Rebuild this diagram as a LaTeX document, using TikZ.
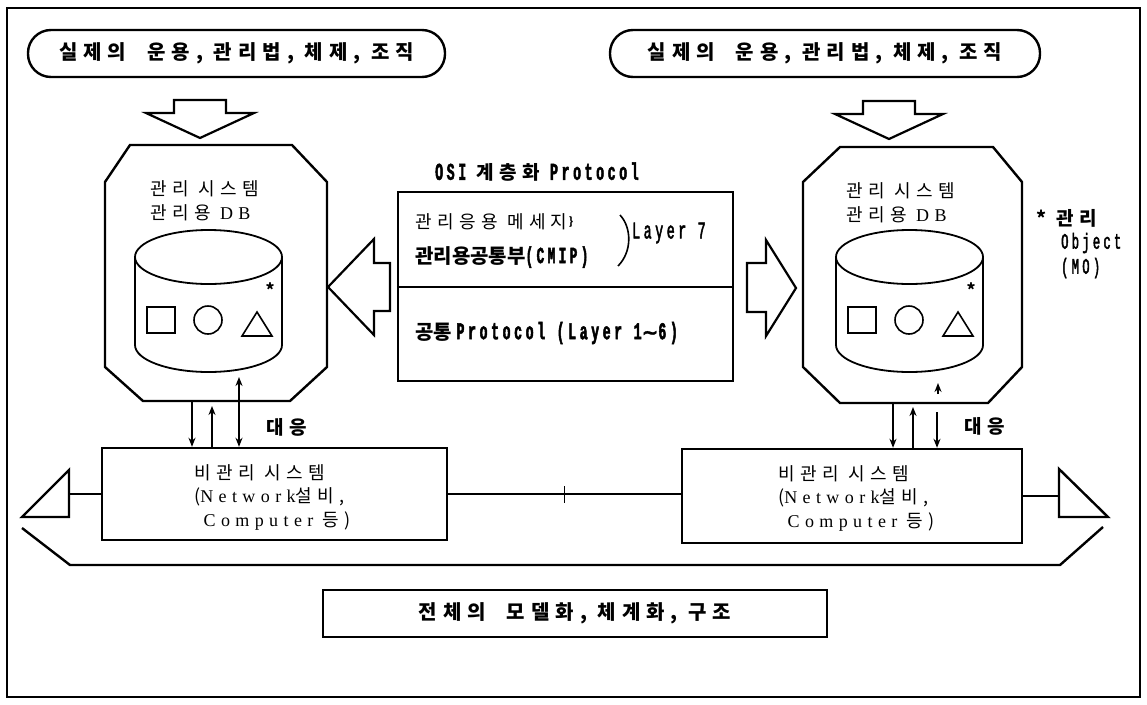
\documentclass[tikz,border=0pt]{standalone}
\usepackage{fontspec}
\setmainfont{Noto Sans CJK KR}
\newfontfamily\krsp{Noto Sans CJK KR}[LetterSpace=30]
\newfontfamily\lat{Liberation Serif}[LetterSpace=30]
\newfontfamily\mono{Liberation Mono}[FakeStretch=0.55, LetterSpace=15, FakeBold=2]
\newfontfamily\sym{DejaVu Sans}[FakeBold=1.5]
\usetikzlibrary{arrows.meta, positioning}

\begin{document}
\begin{tikzpicture}[
  x=1pt, y=-1pt,
  ln/.style={line width=2.4pt, line join=miter},
  pill/.style={draw, line width=2.4pt, rounded corners=23pt, minimum height=47pt,
               inner sep=0pt, font=\krsp\bfseries\fontsize{20}{22}\selectfont},
  box/.style={draw, line width=2.4pt, inner sep=0pt},
  blk/.style={draw, line width=2.2pt, line join=miter},
  cyl/.style={line width=1.8pt},
  shp/.style={line width=1.6pt},
  arr/.style={line width=1.7pt, -{Stealth[length=9pt, width=7pt]}},
  darr/.style={line width=1.7pt, {Stealth[length=9pt, width=7pt]}-{Stealth[length=9pt, width=7pt]}},
  txt/.style={font=\krsp\fontsize{18}{23.5}\selectfont, inner sep=0pt},
  btxt/.style={font=\krsp\bfseries\fontsize{19}{22}\selectfont, inner sep=0pt},
  mtxt/.style={font=\mono\fontsize{24}{24}\selectfont, inner sep=0pt}
]
  \useasboundingbox (0,0) rectangle (1147,704);
  \draw[ln] (7,8) rectangle (1140,697);

  % top: real operation
  \node[pill, minimum width=417pt] (pillL) at (236.5,53.5) {실제의\ \ 운용, 관리법, 체제, 조직};
  \node[pill, minimum width=430pt] (pillR) at (825,53.5) {실제의\ \ 운용, 관리법, 체제, 조직};

  % block arrows down
  \draw[blk] (174,100) -- (226,100) -- (226,113) -- (254,113) -- (200,138)
    -- (146,113) -- (174,113) -- cycle;
  \draw[blk] (863,101) -- (915,101) -- (915,114) -- (943,114) -- (889,139)
    -- (835,114) -- (863,114) -- cycle;

  % management systems
  \draw[ln] (130,145) -- (292,145) -- (327,182) -- (327,367) -- (290,401)
    -- (143,401) -- (105,367) -- (105,182) -- cycle;
  \draw[ln] (840,147) -- (993,147) -- (1022,182) -- (1022,367) -- (988,403)
    -- (840,403) -- (803,367) -- (803,182) -- cycle;
  \coordinate (octLs) at (216,401);
  \coordinate (octRs) at (912,403);

  \node[txt, anchor=west, align=left] (titL) at (150,201) {관리 시스템\\관리용 {\lat DB}};
  \node[txt, anchor=west, align=left] (titR) at (846,203) {관리 시스템\\관리용 {\lat DB}};

  % databases with objects
  \foreach \dx in {0,701} {
    \draw[cyl] (208.5+\dx,257) ellipse [x radius=73.5, y radius=27];
    \draw[cyl] (135+\dx,257) -- (135+\dx,345)
      arc[start angle=180, end angle=0, x radius=73.5, y radius=27] -- (282+\dx,257);
    \draw[shp] (147+\dx,307) rectangle (175+\dx,333);
    \draw[shp] (208+\dx,320) circle [radius=14];
    \draw[shp] (242+\dx,336) -- (272+\dx,336) -- (257+\dx,312) -- cycle;
    \node[font=\bfseries\fontsize{17}{17}\selectfont, inner sep=0pt] (ast\dx) at (270+\dx,290) {*};
  }

  % OSI protocol stack
  \node[btxt, anchor=west] (osiT) at (435,172)
    {{\mono\fontsize{24}{24}\selectfont OSI} 계층화 {\mono\fontsize{24}{24}\selectfont Protocol}};
  \node[box, minimum width=335pt, minimum height=189pt] (osi) at (565.5,286.5) {};
  \coordinate (divy) at (0,287);
  \draw[ln] (osi.west |- divy) -- (osi.east |- divy);
  \node[txt, anchor=west] (msg) at (415,222) {관리응용 메세지};
  \node[font=\bfseries\fontsize{11}{11}\selectfont, inner sep=0pt, right=1pt of msg] (msgb) {\}};
  \node[font=\bfseries\fontsize{20}{22}\selectfont, inner sep=0pt, anchor=west] (cmip) at (415,257)
    {관리용공통부{\mono\fontsize{23}{23}\selectfont(CMIP)}};
  \draw[line width=1.6pt] (620,215) .. controls (632,228) and (632,252) .. (618,266);
  \node[mtxt, anchor=west] (lay7) at (632,233) {Layer 7};
  \node[font=\bfseries\fontsize{20}{22}\selectfont, inner sep=0pt, anchor=west] (comm) at (415,333)
    {공통 {\mono\fontsize{24}{24}\selectfont Protocol (Layer 1}{\sym ∼}{\mono\fontsize{24}{24}\selectfont 6)}};

  % block arrows sideways
  \draw[blk] (390,263) -- (374,263) -- (374,239) -- (328,287) -- (374,335)
    -- (374,311) -- (390,311) -- cycle;
  \draw[blk] (747,263) -- (766,263) -- (766,240) -- (796,288) -- (766,336)
    -- (766,312) -- (747,312) -- cycle;

  % managed object note
  \node[btxt, anchor=west] (moA) at (1036,218) {*\hspace{10pt}관리};
  \node[mtxt, anchor=west, font=\mono\fontsize{22}{22}\selectfont] (moB) at (1061,243) {Object};
  \node[mtxt, anchor=west, font=\mono\fontsize{22}{22}\selectfont] (moC) at (1061,268) {(MO)};

  % unmanaged systems
  \node[box, minimum width=345pt, minimum height=92pt] (sysL) at (274.5,494) {};
  \node[box, minimum width=340pt, minimum height=94pt] (sysR) at (852,496) {};
  \node[txt, anchor=west, align=left] (sysLt) at (194,497)
    {비관리 시스템\\({\lat Network}설비,\\\ {\lat Computer} 등)};
  \node[txt, anchor=west, align=left] (sysRt) at (778,498)
    {비관리 시스템\\({\lat Network}설비,\\\ {\lat Computer} 등)};

  % correspondence arrows
  \draw[arr] ([xshift=-24pt]octLs) -- ([xshift=-24pt]octLs |- sysL.north);
  \draw[arr, shorten >=5pt] ([xshift=-4pt]octLs |- sysL.north) -- ([xshift=-4pt]octLs);
  \draw[darr] ([shift={(23pt,24pt)}]octLs) -- ([xshift=23pt]octLs |- sysL.north);
  \node[btxt] (corL) at (287,427) {대응};

  \draw[arr] ([xshift=-19pt]octRs) -- ([xshift=-19pt]octRs |- sysR.north);
  \draw[arr, shorten >=4pt] ([xshift=1pt]octRs |- sysR.north) -- ([xshift=1pt]octRs);
  \draw[arr] ([shift={(25pt,-9pt)}]octRs) -- ([xshift=25pt]octRs |- sysR.north);
  \draw[arr] ([shift={(26pt,9pt)}]octRs) -- ([shift={(26pt,20pt)}]octRs);
  \node[btxt] (corR) at (985,426) {대응};

  % network link and whole-structure arrow
  \draw[ln] (sysL.east) -- coordinate[pos=0.5] (tick) (sysL.east -| sysR.west);
  \draw[line width=1.8pt] ([yshift=8pt]tick) -- ([yshift=-9pt]tick);
  \draw[ln] (69,470) -- (69,517) -- (22,517) -- cycle;
  \draw[ln] (1059,469) -- (1059,517) -- (1108,517) -- cycle;
  \coordinate (triL) at (69,494);
  \coordinate (triR) at (1059,496);
  \draw[ln] (sysL.west) -- (sysL.west -| triL);
  \draw[ln] (sysR.east) -- (sysR.east -| triR);
  \draw[ln] (22,528) -- (70,565) -- (1060,565) -- (1103,527);

  % modelling box
  \node[box, minimum width=504pt, minimum height=47pt, font=\krsp\bfseries\fontsize{20}{22}\selectfont]
    (model) at (575,613.5) {전체의\ \ 모델화, 체계화, 구조};
\end{tikzpicture}
\end{document}
